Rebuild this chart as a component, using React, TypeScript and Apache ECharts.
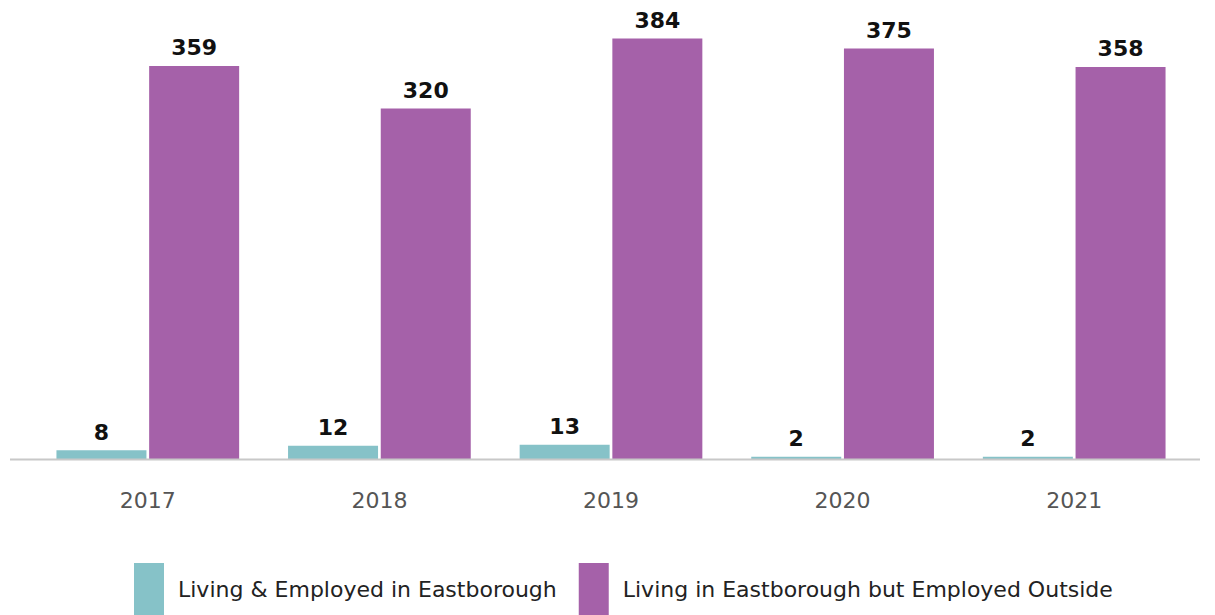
import React, { useEffect, useRef } from "react";
import * as echarts from "echarts";

const categories = ["2017", "2018", "2019", "2020", "2021"];
const livingEmployed = [8, 12, 13, 2, 2];
const livingOutside = [359, 320, 384, 375, 358];
const seriesNames = ["Living & Employed in Eastborough", "Living in Eastborough but Employed Outside"];

export default function App() {
  const ref = useRef<HTMLDivElement>(null);
  useEffect(() => {
    const chart = echarts.init(ref.current!, null, { renderer: "svg" });
    const font = "'DejaVu Sans', sans-serif";
    const label = {
      show: true,
      position: "top",
      distance: 7,
      fontFamily: font,
      fontWeight: "bold",
      fontSize: 22,
      color: "#111",
    };
    chart.setOption({
      animation: false,
      grid: { left: 32, right: 25, top: 21, bottom: 156 },
      xAxis: {
        type: "category",
        data: categories,
        axisLine: { show: false },
        axisTick: { show: false },
        axisLabel: { fontFamily: font, fontSize: 22, color: "#555", margin: 30 },
      },
      yAxis: {
        type: "value",
        min: 0,
        max: 400,
        show: false,
        splitLine: { show: false },
      },
      legend: {
        left: 134,
        top: 563,
        padding: 0,
        itemWidth: 30,
        itemHeight: 52,
        itemGap: 22,
        icon: "rect",
        textStyle: { fontFamily: font, fontSize: 22, color: "#222", padding: [0, 0, 0, 9] },
        data: seriesNames,
      },
      graphic: [
        {
          type: "line",
          shape: { x1: 10, y1: 459.5, x2: 1200, y2: 459.5 },
          style: { stroke: "#c8c8c8", lineWidth: 2 },
          z: 10,
        },
      ],
      series: [
        {
          name: seriesNames[0],
          type: "bar",
          data: livingEmployed,
          barWidth: 90,
          barGap: "3%",
          itemStyle: { color: "#86C2C8" },
          label,
        },
        {
          name: seriesNames[1],
          type: "bar",
          data: livingOutside,
          barWidth: 90,
          itemStyle: { color: "#A561A9" },
          label,
        },
      ],
    });
    return () => chart.dispose();
  }, []);
  return <div ref={ref} style={{ width: 1215, height: 615, position: "absolute", left: 0, top: 0 }} />;
}
